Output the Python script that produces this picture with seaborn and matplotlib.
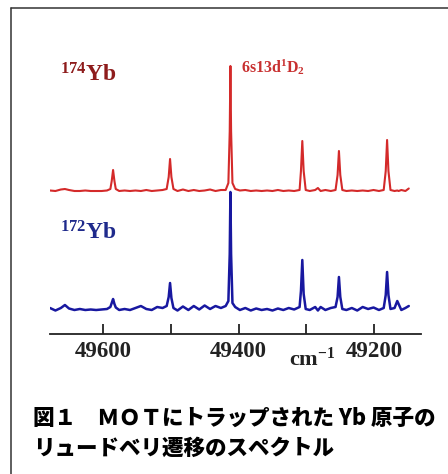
import matplotlib
matplotlib.use("Agg")
import matplotlib.pyplot as plt
from matplotlib.lines import Line2D
from matplotlib.ticker import FixedLocator, NullFormatter
import seaborn as sns
import pandas as pd

# 波数 (cm^-1) と各スペクトルの強度（任意単位、図から読み取り）
wavenumber = [
    49678, 49670, 49662, 49656, 49650, 49642, 49634, 49626, 49618, 49610,
    49602, 49594, 49589, 49587, 49585, 49583, 49581, 49576, 49568, 49560,
    49552, 49544, 49536, 49528, 49520, 49512, 49506, 49503, 49501, 49499,
    49496, 49490, 49482, 49474, 49466, 49458, 49450, 49442, 49434, 49426,
    49419, 49415, 49413, 49412, 49411, 49409, 49405, 49398, 49390, 49382,
    49374, 49366, 49358, 49350, 49342, 49334, 49326, 49318, 49310, 49308,
    49306, 49304, 49301, 49295, 49287, 49283, 49279, 49272, 49264, 49257,
    49254, 49252, 49250, 49247, 49241, 49233, 49225, 49217, 49209, 49201,
    49193, 49186, 49183, 49181, 49179, 49176, 49170, 49166, 49164, 49160,
    49154, 49149,
]
yb174 = [
    0.5, 0, 1.5, 2, 1, 0, 0, 0.5, 0, 0,
    0, 0.5, 2, 10, 21, 10, 2, 0, 0.5, 0,
    0.5, 0, 1, 0, 0.5, 1, 2, 14, 32, 14,
    2, 0, 1.5, 0, 1, 0, 0.5, 1.5, 0, 1,
    1, 8, 60, 125, 60, 8, 2, 0.5, 1, 0,
    0.5, 0, 0.5, 0, 1, 0, 0.5, 0, 1, 20,
    50, 20, 1, 0, 1, 3, 0, 1, 0, 1,
    16, 40, 16, 1, 0, 0.5, 0, 0.5, 0, 1,
    0, 1, 20, 51, 20, 1, 0, 0.5, 0, 1,
    0, 2.5,
]
yb172 = [
    1, -1.5, 1, 4, 0.5, -1, 0, -1, -0.5, -1,
    -0.5, 0, 2, 6, 10, 5, 1.5, -1, 0, -1,
    1, 3, 0, -1, 2, 1, 3, 12, 26, 11,
    1, -1.5, 2.5, -1, 3, -0.5, 3.5, 0, 3, 1,
    3, 8, 55, 117, 55, 6, 2, -1, 1, -1.5,
    0.5, -1, 0, -1.5, 0.5, -1, 1, -0.5, 2, 18,
    49, 15, 0, -1, 2, -1.5, 2, -1, 1, 2,
    12, 32, 12, 0, -1, 1, -1.5, 2, 0, 1.5,
    -1, 1, 14, 37, 14, 0, 1, 8, 5, -1,
    1, 3,
]
major_ticks = [49600, 49400, 49200]
minor_ticks = [49500, 49300]

offset_174 = 118  # 174Yb を上にずらす

sns.set_theme(style="white")
plt.rcParams["font.family"] = ["Liberation Serif", "DejaVu Serif"]
plt.rcParams["mathtext.fontset"] = "custom"
plt.rcParams["mathtext.rm"] = "Liberation Serif"
plt.rcParams["mathtext.bf"] = "Liberation Serif:bold"
plt.rcParams["mathtext.it"] = "Liberation Serif:italic"

fig = plt.figure(figsize=(4.48, 4.74), dpi=100)
ax = fig.add_axes([50 / 448, 140 / 474, 371 / 448, 294 / 474])

df = pd.DataFrame({"wn": wavenumber, "y174": yb174, "y172": yb172})
df["y174s"] = df["y174"] + offset_174

sns.lineplot(data=df, x="wn", y="y174s", sort=False, color="#d42a2a", lw=1.5, ax=ax)
sns.lineplot(data=df, x="wn", y="y172", sort=False, color="#1818a0", lw=1.8, ax=ax)

ax.set_xlim(49678, 49131)
ax.set_ylim(-25, 269)
ax.set_xlabel("")
ax.set_ylabel("")
ax.set_yticks([])
for s in ["left", "right", "top"]:
    ax.spines[s].set_visible(False)
ax.spines["bottom"].set_linewidth(1.3)
ax.spines["bottom"].set_color("#222222")

ax.xaxis.set_major_locator(FixedLocator(major_ticks))
ax.xaxis.set_minor_locator(FixedLocator(minor_ticks))
ax.xaxis.set_minor_formatter(NullFormatter())
ax.set_xticklabels([str(t) for t in major_ticks])
ax.tick_params(axis="x", which="both", direction="in", length=7, width=1.3,
               color="#222222", bottom=True, pad=5)
for lab in ax.get_xticklabels():
    lab.set_fontsize(16.5)
    lab.set_fontweight("bold")
    lab.set_color("#222222")

ax.text(49326, -0.108, r"$\mathbf{cm^{-1}}$", transform=ax.get_xaxis_transform(),
        fontsize=16, color="#222222", va="baseline", ha="left")

ax.text(49663, 228, r"$\mathbf{^{174}Yb}$", fontsize=17, color="#8e1c1c",
        va="baseline", ha="left")
ax.text(49663, 69, r"$\mathbf{^{172}Yb}$", fontsize=17, color="#1f2a8c",
        va="baseline", ha="left")
ax.text(49396, 236, r"$\mathbf{6s13d^1D_2}$", fontsize=11.5, color="#c83030",
        va="baseline", ha="left")

# 枠線
fig.add_artist(Line2D([11 / 448, 11 / 448], [0, 1 - 8 / 474], color="#333333", lw=1.1))
fig.add_artist(Line2D([11 / 448, 1], [1 - 8 / 474, 1 - 8 / 474], color="#333333", lw=1.1))

cjk = ["Noto Sans CJK JP", "DejaVu Sans"]
fig.text(33 / 448, 1 - 418 / 474, "図１　ＭＯＴにトラップされた Yb 原子の",
         family=cjk, fontsize=15.5, fontweight="black", color="black",
         va="center", ha="left")
fig.text(33 / 448, 1 - 448 / 474, "リュードベリ遷移のスペクトル",
         family=cjk, fontsize=15.5, fontweight="black", color="black",
         va="center", ha="left")

fig.savefig("out.png", dpi=100)
